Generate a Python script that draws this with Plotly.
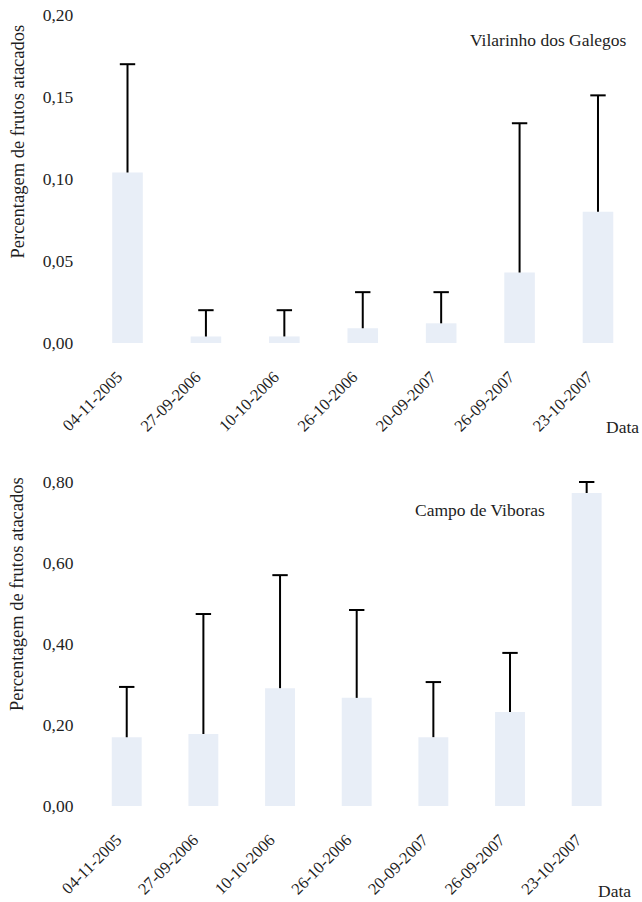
import plotly.graph_objects as go

# Sampling dates (category axis, shared by both sites)
datas = ["04-11-2005", "27-09-2006", "10-10-2006", "26-10-2006",
         "20-09-2007", "26-09-2007", "23-10-2007"]

# Vilarinho dos Galegos: mean proportion of attacked fruits and upper error
vilarinho_media = [0.104, 0.004, 0.004, 0.009, 0.012, 0.043, 0.080]
vilarinho_erro = [0.066, 0.016, 0.016, 0.022, 0.019, 0.091, 0.071]

# Campo de Viboras: mean proportion of attacked fruits and upper error
campo_media = [0.170, 0.178, 0.291, 0.267, 0.170, 0.232, 0.773]
campo_erro = [0.124, 0.296, 0.279, 0.217, 0.136, 0.146, 0.027]

# Y tick values and labels (decimal comma)
vil_tickvals = [0.00, 0.05, 0.10, 0.15, 0.20]
vil_ticktext = ["0,00", "0,05", "0,10", "0,15", "0,20"]
campo_tickvals = [0.00, 0.20, 0.40, 0.60, 0.80]
campo_ticktext = ["0,00", "0,20", "0,40", "0,60", "0,80"]

W, H = 642, 902
FONT = "Liberation Serif, Times New Roman, serif"
TXT = "#1e1e1e"
BAR = "rgb(232,238,247)"


def px_x(p):
    return p / W


def px_y(p):
    return 1 - p / H


def add_panel(fig, media, erro, xa, ya):
    # bars
    fig.add_trace(go.Bar(
        x=datas, y=media, xaxis=xa, yaxis=ya,
        marker=dict(color=BAR, line=dict(width=0)),
        showlegend=False, hoverinfo="skip",
    ))
    # upper whisker only: a capped marker at mean+error with an error
    # line running back down to the bar top
    topo = [m + e for m, e in zip(media, erro)]
    fig.add_trace(go.Scatter(
        x=datas, y=topo, xaxis=xa, yaxis=ya, mode="markers",
        marker=dict(symbol="line-ew", size=11, color="black",
                    line=dict(color="black", width=2)),
        error_y=dict(type="data", symmetric=False,
                     array=[0] * len(erro), arrayminus=erro,
                     color="black", thickness=2, width=0),
        showlegend=False, cliponaxis=False,
    ))


fig = go.Figure()
add_panel(fig, vilarinho_media, vilarinho_erro, "x", "y")
add_panel(fig, campo_media, campo_erro, "x2", "y2")

common_x = dict(
    type="category", range=[-0.5, 6.5], showgrid=False, zeroline=False,
    showline=False, tickangle=-45, ticks="", ticklabelstandoff=20,
    ticklabelshift=-10,
    tickfont=dict(family=FONT, size=16.5, color=TXT), automargin=False,
)
common_y = dict(
    showgrid=False, zeroline=False, showline=False, ticks="",
    ticklabelstandoff=14,
    tickfont=dict(family=FONT, size=17.5, color=TXT), automargin=False,
)

# top panel: 0 at y=343px, 1640 px per unit
top_rng = [0, 0.205]
top_bottom_px = 343
top_top_px = top_bottom_px - top_rng[1] * 1640
# bottom panel: 0 at y=806px, 405 px per unit
bot_rng = [0, 0.83]
bot_bottom_px = 806
bot_top_px = bot_bottom_px - bot_rng[1] * 405

fig.update_layout(
    template="none",
    font=dict(family=FONT, color=TXT),
    width=W, height=H,
    margin=dict(l=0, r=0, t=0, b=0),
    paper_bgcolor="white", plot_bgcolor="white",
    bargap=0.61,
    xaxis=dict(common_x, domain=[px_x(88.3), px_x(637.2)], anchor="y"),
    yaxis=dict(common_y, range=top_rng, tickvals=vil_tickvals,
               ticktext=vil_ticktext,
               domain=[px_y(top_bottom_px), px_y(top_top_px)], anchor="x"),
    xaxis2=dict(common_x, domain=[px_x(88.4), px_x(625)], anchor="y2"),
    yaxis2=dict(common_y, range=bot_rng, tickvals=campo_tickvals,
                ticktext=campo_ticktext,
                domain=[px_y(bot_bottom_px), px_y(bot_top_px)], anchor="x2"),
)

ann_font = dict(family=FONT, size=17.5, color=TXT)
title_font = dict(family=FONT, size=18.5, color=TXT)
annotations = [
    dict(text="Percentagem de frutos atacados", x=px_x(17), y=px_y(141.5),
         textangle=-90, font=title_font),
    dict(text="Percentagem de frutos atacados", x=px_x(17), y=px_y(594),
         textangle=-90, font=title_font),
    dict(text="Vilarinho dos Galegos", x=px_x(548.5), y=px_y(40), font=ann_font),
    dict(text="Campo de Viboras", x=px_x(480), y=px_y(510), font=ann_font),
    dict(text="Data", x=px_x(622), y=px_y(427), font=ann_font),
    dict(text="Data", x=px_x(614), y=px_y(891), font=ann_font),
]
for a in annotations:
    fig.add_annotation(xref="paper", yref="paper", showarrow=False,
                       xanchor="center", yanchor="middle", **a)

fig.write_html("out.html")
